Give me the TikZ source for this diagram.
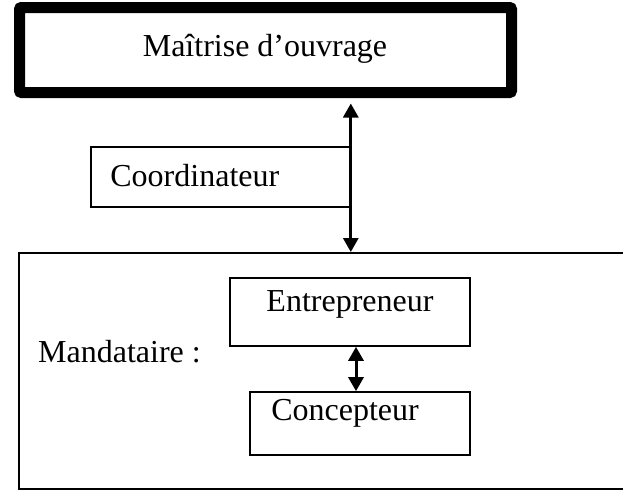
\documentclass[tikz,border=0pt]{standalone}
\usepackage{fontspec}
\setmainfont{Liberation Serif}
\usetikzlibrary{arrows.meta,calc}
\begin{document}
\begin{tikzpicture}[x=1pt,y=-1pt,
  thinbox/.style={draw,line width=1.6pt,inner sep=0pt},
  twoway/.style={line width=3pt,{Triangle[width=15pt,length=14pt]}-{Triangle[width=15pt,length=14pt]}},
  lbl/.style={font=\fontsize{32}{36}\selectfont,inner sep=0pt}]
\useasboundingbox (0,0) rectangle (623,490);
% top box
\node[draw,line width=11pt,rounded corners=2pt,minimum width=492pt,minimum height=85pt,inner sep=0pt] (top) at (265.5,50) {};
\node[lbl] (toptxt) at (265,49) {Maîtrise d’ouvrage};
% coordinator box
\node[thinbox,minimum width=259pt,minimum height=60pt] (coord) at (220.5,177) {};
\node[lbl,anchor=west] (coordtxt) at ($(coord.west)+(20,-1)$) {Coordinateur};
% big box
\node[thinbox,minimum width=612pt,minimum height=236pt,anchor=north west] (big) at (18,252) {};
\node[lbl,anchor=west] (mand) at (38,352) {Mandataire :};
% entrepreneur
\node[thinbox,minimum width=240pt,minimum height=68pt] (ent) at (350,312) {};
\node[lbl] (enttxt) at (350,304) {Entrepreneur};
% concepteur
\node[thinbox,minimum width=220pt,minimum height=63pt] (conc) at (360,423.5) {};
\node[lbl] (conctxt) at (345,413) {Concepteur};
% arrows
\draw[twoway] (coord.east |- top.south) ++(0,5.5) coordinate (a1) -- (coord.east |- big.north);
\draw[twoway] (356,0 |- ent.south) -- (356,0 |- conc.north);
\end{tikzpicture}
\end{document}
